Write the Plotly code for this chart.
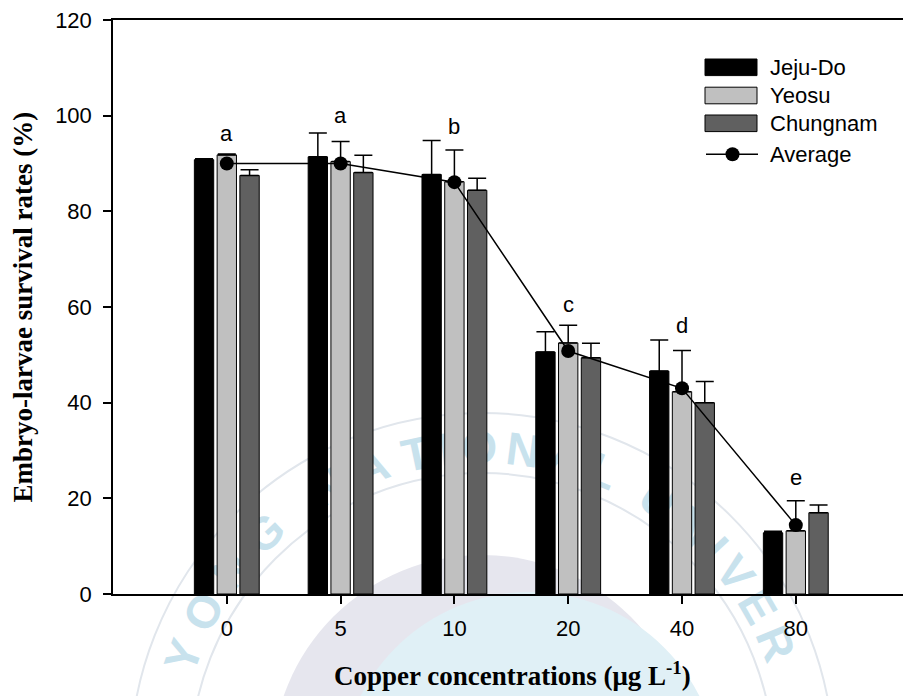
import math
import plotly.graph_objects as go

# Copper concentration groups (µg/L) and survival rates (%)
concentrations = ["0", "5", "10", "20", "40", "80"]
jeju = [90.8, 91.4, 87.7, 50.6, 46.6, 12.8]
jeju_err = [0.2, 5.0, 7.1, 4.2, 6.5, 0.3]
yeosu = [91.8, 90.4, 86.2, 52.5, 42.3, 13.2]
yeosu_err = [0.2, 4.2, 6.6, 3.7, 8.6, 6.3]
chungnam = [87.5, 88.1, 84.4, 49.4, 40.0, 17.0]
chungnam_err = [1.2, 3.6, 2.5, 3.0, 4.4, 1.6]
average = [90.0, 90.0, 86.1, 50.8, 43.0, 14.4]
letters = ["a", "a", "b", "c", "d", "e"]
letter_y = [96.2, 100.0, 97.7, 60.5, 56.1, 24.4]

watermark_text = "PUKYONG NATIONAL UNIVERSITY"

xpos = list(range(len(concentrations)))

W, H = 903, 696
ML, MR, MT, MB = 113, 0, 20, 102
PW, PH = W - ML - MR, H - MT - MB


def px(x):
    return (x - ML) / PW


def py(y):
    return (H - MB - y) / PH


series = [
    ("Jeju-Do", jeju, jeju_err, "#000000"),
    ("Yeosu", yeosu, yeosu_err, "#c0c0c0"),
    ("Chungnam", chungnam, chungnam_err, "#606060"),
]

fig = go.Figure()
for name, vals, errs, color in series:
    fig.add_trace(go.Bar(
        x=xpos, y=vals, name=name,
        marker=dict(color=color, line=dict(color="black", width=1)),
        error_y=dict(type="data", symmetric=False, array=errs,
                     arrayminus=[0] * len(errs), color="black",
                     thickness=1.5, width=9),
        showlegend=False,
    ))

fig.add_trace(go.Scatter(
    x=xpos, y=average, name="Average", mode="lines+markers",
    line=dict(color="black", width=1.5),
    marker=dict(color="black", size=14),
    showlegend=False,
))

tick_font = dict(family="Liberation Sans, Arial, sans-serif", size=22, color="black")
title_font = dict(family="Liberation Serif, Times New Roman, serif", size=27, color="black")

annotations = []
shapes = []

# Faint university seal in the background (drawn below the bars)
cx, cy = 482, 765


def circle(x0c, y0c, r, **kw):
    return dict(type="circle", xref="paper", yref="paper", layer="below",
                x0=px(x0c - r), x1=px(x0c + r), y0=py(y0c + r), y1=py(y0c - r), **kw)


shapes.append(circle(cx, cy, 210, fillcolor="#e6e6ee", line=dict(width=0)))
shapes.append(circle(530, 782, 190, fillcolor="#e0f0f6", line=dict(width=0)))
shapes.append(circle(cx, cy, 352, fillcolor="rgba(0,0,0,0)", line=dict(color="#e1e6ec", width=2)))
shapes.append(circle(cx, cy, 292, fillcolor="rgba(0,0,0,0)", line=dict(color="#e1e6ec", width=2)))

# Letters around the ring
wm_size = 46
widths = {"P": .667, "U": .722, "K": .722, "Y": .667, "O": .778, "N": .722,
          "G": .778, " ": .278, "A": .722, "T": .611, "I": .278, "L": .611,
          "V": .667, "E": .667, "R": .722, "S": .667}
ring_r = 322
t_idx = watermark_text.index("T")
track_left, track_right = 16.0, 10.0
offs = []
acc = 0.0
for i, ch in enumerate(watermark_text):
    w = widths[ch] * wm_size
    if i > 0:
        acc += track_left if i <= t_idx else track_right
    offs.append(acc + w / 2)
    acc += w
theta_t = 102.0
for i, ch in enumerate(watermark_text):
    if ch == " ":
        continue
    theta = theta_t - math.degrees((offs[i] - offs[t_idx]) / ring_r)
    lx = cx + ring_r * math.cos(math.radians(theta))
    ly = cy - ring_r * math.sin(math.radians(theta))
    if ly > H - 26:
        continue
    shapes.append(dict(type="rect", xref="paper", yref="paper", layer="below",
                       x0=px(lx - 0.5), x1=px(lx + 0.5), y0=py(ly + 0.5), y1=py(ly - 0.5),
                       line=dict(width=0), fillcolor="rgba(0,0,0,0)",
                       label=dict(text=ch, textangle=90 - theta,
                                  textposition="middle center",
                                  font=dict(family="Liberation Sans, Arial, sans-serif",
                                            size=wm_size, color="#c8e2ed",
                                            weight="bold"))))

# Significance letters above each group
for xi, txt, yy in zip(xpos, letters, letter_y):
    annotations.append(dict(x=xi, y=yy, xref="x", yref="y", text=txt,
                            showarrow=False, font=tick_font,
                            xanchor="center", yanchor="middle"))

# Legend drawn by hand: wide swatches on the right of the plot
legend_rows = [
    ("Jeju-Do", "#000000", 67.3),
    ("Yeosu", "#c0c0c0", 95.5),
    ("Chungnam", "#606060", 123.3),
]
for label, color, yc in legend_rows:
    shapes.append(dict(type="rect", xref="paper", yref="paper",
                       x0=px(705), x1=px(757), y0=py(yc - 8.3), y1=py(yc + 8.3),
                       fillcolor=color, line=dict(color="black", width=1)))
    annotations.append(dict(x=px(768), y=py(yc), xref="paper", yref="paper",
                            text=label, showarrow=False, font=tick_font,
                            xanchor="left", yanchor="middle"))
avg_y = 154.3
shapes.append(dict(type="line", xref="paper", yref="paper",
                   x0=px(706), x1=px(758), y0=py(avg_y), y1=py(avg_y),
                   line=dict(color="black", width=1.5)))
shapes.append(dict(type="circle", xref="paper", yref="paper",
                   x0=px(732.5 - 7), x1=px(732.5 + 7),
                   y0=py(avg_y - 7), y1=py(avg_y + 7),
                   fillcolor="black", line=dict(color="black", width=0)))
annotations.append(dict(x=px(768), y=py(avg_y), xref="paper", yref="paper",
                        text="Average", showarrow=False, font=tick_font,
                        xanchor="left", yanchor="middle"))

# Axis titles
annotations.append(dict(x=px(512), y=py(674), xref="paper", yref="paper",
                        text="<b>Copper concentrations (μg L<sup>-1</sup>)</b>",
                        showarrow=False, font=title_font,
                        xanchor="center", yanchor="middle"))
annotations.append(dict(x=px(23), y=py(307.5), xref="paper", yref="paper",
                        text="<b>Embryo-larvae survival rates (%)</b>",
                        textangle=-90, showarrow=False, font=title_font,
                        xanchor="center", yanchor="middle"))

fig.update_layout(
    width=W, height=H,
    margin=dict(l=ML, r=MR, t=MT, b=MB, pad=0),
    paper_bgcolor="white", plot_bgcolor="rgba(0,0,0,0)",
    barmode="group", bargap=0.4, bargroupgap=0.15,
    showlegend=False,
    annotations=annotations,
    shapes=shapes,
    xaxis=dict(range=[-1, (W - ML) / 113.8 - 1], tickvals=xpos,
               ticktext=concentrations, ticks="outside", ticklen=8,
               tickwidth=1.5, tickcolor="black", showline=True,
               linecolor="black", linewidth=1.5, mirror=True,
               showgrid=False, zeroline=False, tickfont=tick_font,
               ticklabelstandoff=6),
    yaxis=dict(range=[0, 120], dtick=20, ticks="outside", ticklen=8,
               tickwidth=1.5, tickcolor="black", showline=True,
               linecolor="black", linewidth=1.5, showgrid=False,
               zeroline=False, tickfont=tick_font, ticklabelstandoff=7),
)

fig.write_html("out.html")
